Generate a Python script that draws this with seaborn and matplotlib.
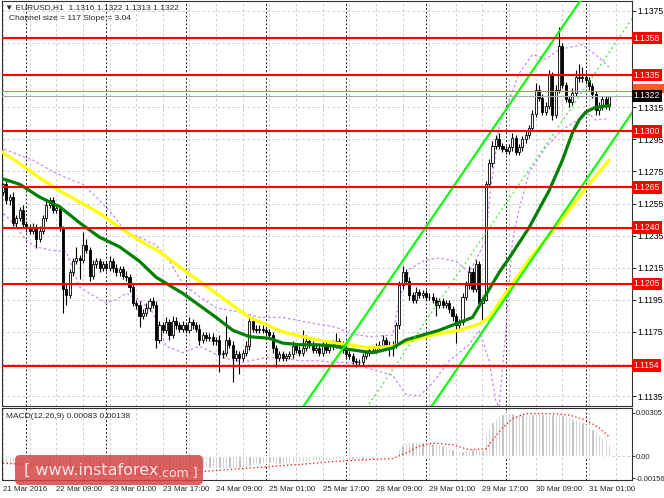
import numpy as np
import pandas as pd
import matplotlib
matplotlib.use("Agg")
import matplotlib.pyplot as plt
from matplotlib.patches import FancyBboxPatch, Rectangle
import seaborn as sns

# EURUSD H1, 21 Mar 17:00 .. 31 Mar 07:00 (one entry per bar)
first_open = 1.1262
closes = [
    1.1267, 1.1257, 1.1259, 1.1243, 1.1246, 1.1251, 1.1242, 1.1240, 1.1238, 1.1240, 1.1233, 1.1238,
    1.1246, 1.1254, 1.1257, 1.1251, 1.1252, 1.1240, 1.1202, 1.1198, 1.1212, 1.1219, 1.1221, 1.1220,
    1.1229, 1.1226, 1.1210, 1.1217, 1.1219, 1.1215, 1.1217, 1.1215, 1.1219, 1.1215, 1.1212, 1.1214,
    1.1210, 1.1209, 1.1203, 1.1193, 1.1192, 1.1185, 1.1187, 1.1190, 1.1194, 1.1192, 1.1170, 1.1179,
    1.1176, 1.1181, 1.1173, 1.1182, 1.1179, 1.1177, 1.1179, 1.1176, 1.1181, 1.1179, 1.1177, 1.1170,
    1.1173, 1.1171, 1.1172, 1.1169, 1.1170, 1.1161, 1.1162, 1.1170, 1.1167, 1.1159, 1.1161, 1.1159,
    1.1162, 1.1166, 1.1182, 1.1177, 1.1176, 1.1177, 1.1176, 1.1175, 1.1173, 1.1165, 1.1159, 1.1161,
    1.1159, 1.1160, 1.1161, 1.1166, 1.1164, 1.1162, 1.1165, 1.1169, 1.1167, 1.1164, 1.1165, 1.1162,
    1.1167, 1.1164, 1.1166, 1.1167, 1.1169, 1.1167, 1.1164, 1.1161, 1.1160, 1.1157, 1.1156, 1.1156,
    1.1160, 1.1162, 1.1164, 1.1164, 1.1166, 1.1167, 1.1170, 1.1167, 1.1165, 1.1167, 1.1179, 1.1204,
    1.1212, 1.1207, 1.1198, 1.1195, 1.1200, 1.1198, 1.1199, 1.1197, 1.1197, 1.1195, 1.1192, 1.1194,
    1.1192, 1.1193, 1.1189, 1.1185, 1.1179, 1.1181, 1.1197, 1.1204, 1.1212, 1.1202, 1.1217, 1.1193,
    1.1195, 1.1267, 1.1280, 1.1291, 1.1295, 1.1291, 1.1289, 1.1288, 1.1290, 1.1296, 1.1287, 1.1290,
    1.1295, 1.1298, 1.1302, 1.1311, 1.1326, 1.1321, 1.1312, 1.1316, 1.1335, 1.1310, 1.1326, 1.1353,
    1.1329, 1.1320, 1.1318, 1.1324, 1.1334, 1.1333, 1.1334, 1.1332, 1.1328, 1.1323, 1.1313, 1.1315,
    1.1320, 1.1316, 1.1322,
]
# wick lengths beyond the body, in pips
wick_hi = [
    1, 2, 2, 3, 2, 2, 3, 2, 2, 3, 2, 3, 2, 3, 2, 2, 3, 2, 1, 3, 2, 2, 7, 2,
    8, 4, 2, 3, 2, 2, 2, 2, 3, 2, 2, 2, 2, 3, 2, 2, 2, 2, 2, 3, 2, 3, 2, 3,
    2, 3, 2, 3, 2, 2, 3, 2, 3, 2, 2, 3, 2, 2, 2, 2, 2, 3, 2, 15, 2, 2, 3, 2,
    2, 3, 3, 2, 2, 2, 2, 2, 2, 2, 2, 2, 2, 2, 2, 3, 2, 2, 11, 4, 2, 2, 2, 2,
    2, 3, 2, 3, 5, 2, 2, 2, 2, 2, 2, 2, 2, 2, 2, 2, 2, 2, 3, 2, 2, 2, 2, 3,
    4, 2, 2, 2, 3, 2, 2, 2, 2, 2, 2, 2, 2, 2, 2, 2, 2, 2, 2, 3, 4, 3, 3, 2,
    2, 2, 3, 3, 3, 4, 2, 2, 2, 3, 2, 2, 2, 2, 2, 2, 4, 3, 2, 2, 3, 2, 3, 12,
    2, 2, 2, 3, 4, 8, 6, 3, 2, 2, 2, 3, 2, 2, 0,
]
wick_lo = [
    2, 2, 3, 2, 3, 2, 2, 3, 2, 2, 6, 2, 2, 2, 2, 2, 2, 2, 15, 6, 2, 2, 2, 12,
    2, 2, 3, 2, 2, 3, 2, 2, 2, 3, 2, 2, 2, 2, 3, 2, 3, 7, 2, 2, 2, 2, 5, 2,
    2, 2, 3, 2, 2, 2, 2, 2, 2, 2, 2, 3, 2, 2, 2, 2, 2, 11, 2, 2, 2, 15, 2, 10,
    2, 2, 2, 2, 2, 2, 2, 2, 2, 3, 6, 2, 2, 2, 2, 2, 2, 2, 2, 2, 2, 2, 2, 2,
    2, 2, 2, 2, 2, 2, 2, 2, 2, 2, 3, 2, 2, 2, 2, 2, 2, 2, 2, 2, 5, 5, 2, 2,
    2, 2, 3, 2, 2, 2, 2, 2, 2, 2, 7, 2, 2, 2, 2, 3, 11, 3, 2, 2, 2, 2, 2, 2,
    12, 1, 2, 2, 2, 2, 2, 2, 2, 2, 2, 2, 2, 2, 2, 2, 2, 2, 2, 2, 2, 3, 2, 2,
    2, 2, 3, 2, 2, 2, 2, 2, 2, 2, 3, 3, 2, 2, 3,
]

# moving averages (read at sample bars)
ma_slow_bars = [-1, 5, 11, 17, 23, 29, 35, 41, 47, 54, 64, 74, 84, 92, 100, 104, 110, 117, 125, 131,
                137, 143, 146, 149, 158, 167, 176, 182]
ma_slow = [1.1288, 1.1280, 1.1271, 1.1263, 1.1256, 1.1249, 1.1240, 1.1232, 1.1225, 1.1214, 1.1199,
           1.1184, 1.1175, 1.1171, 1.1168, 1.1167, 1.1165, 1.1166, 1.1171, 1.1174, 1.1176, 1.1180,
           1.1184, 1.1193, 1.1220, 1.1243, 1.1267, 1.1282]
ma_fast_bars = [-1, 5, 11, 17, 23, 29, 35, 41, 46, 54, 64, 69, 74, 80, 84, 89, 94, 100, 104, 111, 117,
                121, 131, 141, 145, 149, 152, 158, 164, 168, 171, 173, 175, 178, 182]
ma_fast = [1.1271, 1.1267, 1.1259, 1.1253, 1.1243, 1.1234, 1.1228, 1.1219, 1.1209, 1.1199, 1.1184,
           1.1176, 1.1172, 1.1171, 1.1168, 1.1167, 1.1167, 1.1166, 1.1164, 1.1162, 1.1165, 1.1170,
           1.1176, 1.1184, 1.1198, 1.1212, 1.1221, 1.1240, 1.1263, 1.1282, 1.1299, 1.1307, 1.1312,
           1.1315, 1.1316]

# bands
bb_up_bars = [-1, 9, 14, 19, 24, 29, 33, 37, 41, 46, 50, 54, 59, 64, 72, 77, 84, 89, 94, 100, 104, 110,
              117, 119, 122, 127, 131, 136, 140, 145, 146, 149, 155, 159, 163, 167, 174, 179, 182]
bb_up = [1.1290, 1.1282, 1.1276, 1.1271, 1.1267, 1.1257, 1.1248, 1.1237, 1.1234, 1.1229, 1.1219,
         1.1205, 1.1197, 1.1190, 1.1187, 1.1184, 1.1184, 1.1182, 1.1180, 1.1178, 1.1174, 1.1172,
         1.1173, 1.1195, 1.1214, 1.1220, 1.1221, 1.1219, 1.1212, 1.1232, 1.1257, 1.1303, 1.1336,
         1.1348, 1.1345, 1.1351, 1.1354, 1.1346, 1.1340]
bb_lo_bars = [-1, 3, 7, 10, 14, 19, 23, 26, 31, 34, 37, 41, 45, 49, 54, 59, 66, 72, 79, 84, 89, 94, 99,
              104, 110, 117, 121, 125, 129, 134, 140, 143, 146, 148, 149, 151, 153, 155, 158, 163,
              168, 171, 176, 178, 182]
bb_lo = [1.1251, 1.1243, 1.1232, 1.1228, 1.1226, 1.1225, 1.1203, 1.1199, 1.1193, 1.1195, 1.1199,
         1.1195, 1.1187, 1.1166, 1.1162, 1.1166, 1.1159, 1.1156, 1.1159, 1.1159, 1.1157, 1.1157,
         1.1156, 1.1156, 1.1152, 1.1148, 1.1136, 1.1135, 1.1143, 1.1157, 1.1167, 1.1176, 1.1157,
         1.1132, 1.1128, 1.1176, 1.1232, 1.1251, 1.1274, 1.1290, 1.1301, 1.1305, 1.1311, 1.1307,
         1.1308]

# regression channel: middle line ends and half width
channel_bars = [85, 189]
channel_mid = [1.10542, 1.13704]
channel_half = 0.00585

levels = [1.1358, 1.1335, 1.1300, 1.1265, 1.1240, 1.1205, 1.1154]
bid, ask_line = 1.1322, 1.1325
price_ticks = [1.1135, 1.1155, 1.1175, 1.1195, 1.1215, 1.1235, 1.1255, 1.1275, 1.1295, 1.1315,
               1.1335, 1.1355, 1.1375]
hidden_ticks = [1.1155, 1.1335, 1.1355]   # covered by level labels in the terminal

# MACD(12,26,9) histogram, 1e-5 units
macd_e5 = [
    -60, -62, -63, -66, -68, -68, -72, -75, -78, -80, -84, -85,
    -83, -78, -72, -70, -68, -72, -95, -115, -125, -132, -138, -140,
    -140, -142, -150, -155, -156, -155, -153, -150, -148, -145, -143, -140,
    -140, -140, -142, -145, -148, -150, -145, -140, -135, -130, -130, -132,
    -130, -126, -122, -118, -114, -110, -106, -102, -98, -95, -93, -92,
    -90, -88, -86, -85, -84, -86, -86, -84, -83, -84, -84, -82,
    -80, -76, -68, -62, -58, -55, -52, -50, -50, -52, -55, -56,
    -56, -55, -54, -52, -50, -48, -45, -42, -40, -38, -36, -35,
    -32, -30, -28, -26, -24, -22, -22, -23, -25, -27, -28, -29,
    -27, -25, -22, -20, -17, -14, -10, -8, -7, -5, 10, 50,
    80, 95, 100, 102, 102, 100, 100, 98, 96, 93, 88, 82,
    75, 68, 60, 52, 42, 36, 36, 42, 50, 52, 56, 50,
    46, 150, 200, 240, 268, 290, 300, 305, 305, 303, 300, 298,
    296, 295, 294, 294, 296, 298, 298, 296, 296, 294, 292, 295,
    290, 282, 275, 265, 258, 250, 238, 220, 205, 190, 175, 150,
    125, 105, 83,
]
signal_bars = [0, 10, 20, 30, 40, 50, 60, 70, 80, 90, 100, 110, 117, 121, 125, 129, 135, 140, 145, 147,
               150, 153, 157, 165, 170, 175, 179, 182]
signal_e5 = [-50, -65, -85, -120, -135, -130, -110, -92, -75, -58, -38, -25, -18, 20, 70, 92, 80, 45,
             50, 110, 200, 265, 300, 300, 290, 255, 200, 138]

time_bars = [0, 16, 32, 48, 64, 80, 96, 112, 128, 144, 160, 176]
time_labels = ["21 Mar 2016", "22 Mar 09:00", "23 Mar 01:00", "23 Mar 17:00", "24 Mar 09:00",
               "25 Mar 01:00", "25 Mar 17:00", "28 Mar 09:00", "29 Mar 01:00", "29 Mar 17:00",
               "30 Mar 09:00", "31 Mar 01:00"]
day_start_bars = [7, 31, 55, 79, 103, 127, 151, 175]

sns.set_style("white")
plt.rcParams['font.family'] = ['Liberation Sans', 'DejaVu Sans']

W, H = 664, 498
fig = plt.figure(figsize=(W / 100, H / 100), dpi=100)


def box(l, t, r, b):
    return [l / W, 1 - b / H, (r - l) / W, (b - t) / H]


ax = fig.add_axes(box(2, 1, 632, 406))
mx = fig.add_axes(box(2, 408, 632, 480))

pip = 0.0001
df = pd.DataFrame({'bar': np.arange(len(closes)), 'close': closes})
df['open'] = [first_open] + closes[:-1]
df['high'] = df[['open', 'close']].max(axis=1) + np.array(wick_hi) * pip
df['low'] = df[['open', 'close']].min(axis=1) - np.array(wick_lo) * pip
up = df.close >= df.open

xlim = (-0.3, 188.9)
grid_c = '#c4c4c4'
for a in (ax, mx):
    a.set_xlim(*xlim)
    for b in range(0, 189, 8):
        a.axvline(b, color=grid_c, lw=0.6, ls=(0, (3, 3)), zorder=0)
    for b in day_start_bars:
        a.axvline(b, color='#202020', lw=0.7, ls=(0, (2, 2)), zorder=0.5)
    for s in a.spines.values():
        s.set_color('#303030')
        s.set_linewidth(0.8)

ax.set_ylim(1.11288, 1.13812)
for p in price_ticks:
    ax.axhline(p, color=grid_c, lw=0.6, ls=(0, (3, 3)), zorder=0)

# bands
sns.lineplot(x=bb_up_bars, y=bb_up, ax=ax, sort=False, color='#c58af0', lw=0.9, ls=(0, (2, 2)), zorder=2)
sns.lineplot(x=bb_lo_bars, y=bb_lo, ax=ax, sort=False, color='#c58af0', lw=0.9, ls=(0, (2, 2)), zorder=2)

# candles
ax.vlines(df.bar, df.low, df.high, color='black', lw=0.8, zorder=3)
ax.bar(df.bar[up], (df.close - df.open)[up], bottom=df.open[up], width=0.62,
       color='white', edgecolor='black', lw=0.6, zorder=4)
ax.bar(df.bar[~up], (df.open - df.close)[~up], bottom=df.close[~up], width=0.62,
       color='black', edgecolor='black', lw=0.6, zorder=4)

sns.lineplot(x=ma_slow_bars, y=ma_slow, ax=ax, sort=False, color='#ffff00', lw=2.3, zorder=5)
sns.lineplot(x=ma_fast_bars, y=ma_fast, ax=ax, sort=False, color='#008000', lw=2.3, zorder=5)

# channel
mid = np.array(channel_mid)
sns.lineplot(x=channel_bars, y=mid + channel_half, ax=ax, color='#00ff00', lw=1.5, zorder=6)
sns.lineplot(x=channel_bars, y=mid - channel_half, ax=ax, color='#00ff00', lw=1.5, zorder=6)
sns.lineplot(x=channel_bars, y=mid, ax=ax, color='#33ee33', lw=0.9, ls=(0, (1.5, 2.5)), zorder=6)

# horizontal levels
ax.axhline(ask_line, color='#ff7a50', lw=0.8, zorder=6)
ax.axhline(bid, color='#a8a8a8', lw=0.8, zorder=6)
for p in levels:
    ax.axhline(p, color='#ff0000', lw=1.5, zorder=7)

ax.yaxis.tick_right()
ax.set_yticks(price_ticks)
ax.set_yticklabels(['' if p in hidden_ticks else f'{p:.4f}' for p in price_ticks])
ax.tick_params(axis='y', labelsize=6.2, length=3, pad=1, colors='black', width=0.6)
ax.tick_params(axis='x', length=0, labelbottom=False)
ax.set_xlabel('')
ax.set_ylabel('')

ytr = ax.get_yaxis_transform()
# ask marker sits mostly behind the bid label
ask_box = Rectangle((1.002, ask_line - 0.0001), 0.05, 0.00055, transform=ytr,
                    fc='#ff5a28', ec='none', clip_on=False, zorder=9)
ax.add_patch(ask_box)
lab_kw = dict(transform=ytr, ha='left', va='center', size=6.2, color='white', clip_on=False)
ax.text(1.003, bid, f'{bid:.4f}', zorder=10,
        bbox=dict(boxstyle='square,pad=0.2', fc='black', ec='none'), **lab_kw)
for p in levels:
    ax.text(1.003, p, f'{p:.4f}', zorder=10,
            bbox=dict(boxstyle='square,pad=0.2', fc='#ff0000', ec='none'), **lab_kw)

# MACD pane
mx.set_ylim(-0.00170, 0.00340)
mx.axhline(0, color=grid_c, lw=0.6, ls=(0, (3, 3)), zorder=0)
macd = np.array(macd_e5) * 1e-5
mx.bar(df.bar, macd, width=0.68, color='#b8b8b8', zorder=2)
sns.lineplot(x=signal_bars, y=np.array(signal_e5) * 1e-5, ax=mx, sort=False,
             color='#ff0000', lw=0.9, ls=(0, (1, 2)), zorder=3)
mx.yaxis.tick_right()
mx.set_yticks([0.00305, 0.0, -0.00156])
mx.set_yticklabels(['0.00305', '0.00', '-0.00156'])
mx.tick_params(axis='y', labelsize=5.4, length=2, pad=0.5, width=0.6)
mx.set_xticks(time_bars)
mx.set_xticklabels(time_labels)
mx.tick_params(axis='x', labelsize=5.7, length=3, pad=1.5, width=0.6)
for t in mx.get_xticklabels():
    t.set_ha('left')
mx.set_xlabel('')
mx.set_ylabel('')
mx.text(0.006, 0.93, 'MACD(12,26,9) 0.00083 0.00138', transform=mx.transAxes,
        size=6, va='top', ha='left')

# header
fig.text(5 / W, 1 - 8 / H, '\u25bc EURUSD,H1  1.1316 1.1322 1.1313 1.1322', size=6, va='center')
fig.text(9 / W, 1 - 19 / H, 'Channel size = 117 Slope = 3.04', size=6, va='center')

# watermark
wm = FancyBboxPatch((0.15, 0.13), 1.88, 0.30, boxstyle='round,pad=0,rounding_size=0.05',
                    transform=fig.dpi_scale_trans, fc='#d64545', ec='none', alpha=0.85, zorder=20)
fig.patches.append(wm)
t1 = fig.text(0.24, 0.28, '[ www.instaforex', transform=fig.dpi_scale_trans, size=11.5,
              family='DejaVu Sans', color='#fbe6e6', va='center', ha='left', zorder=21)
fig.canvas.draw()
x_end = t1.get_window_extent().x1 / fig.dpi
fig.text(x_end, 0.255, '.com ]', transform=fig.dpi_scale_trans, size=9,
         family='DejaVu Sans', color='#fbe6e6', va='center', ha='left', zorder=21)

fig.savefig('out.png', dpi=100)
